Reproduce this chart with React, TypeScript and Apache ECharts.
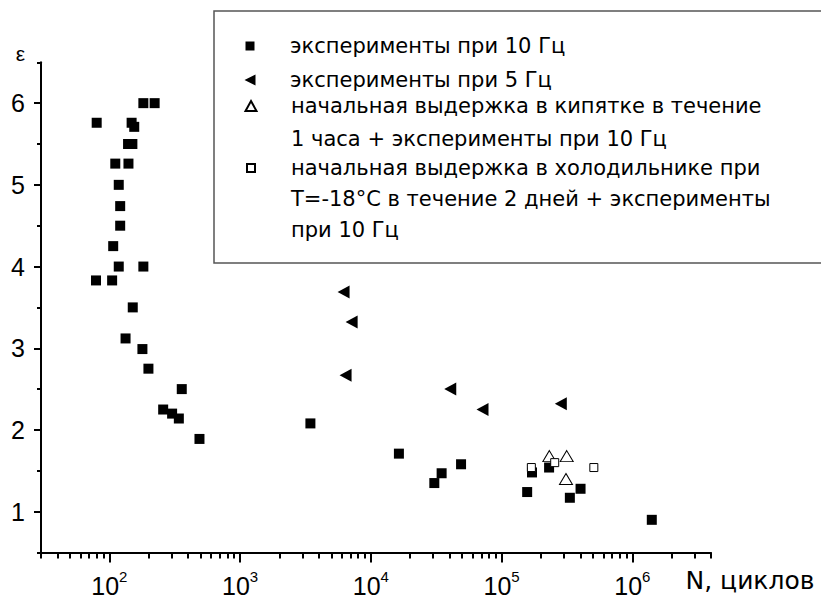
import React, { useEffect, useRef } from "react";
import * as echarts from "echarts";

// ---- data ----
const SERIES_NAMES = [
  "эксперименты при 10 Гц",
  "эксперименты при 5 Гц",
  "начальная выдержка в кипятке в течение\n1 часа + эксперименты при 10 Гц",
  "начальная выдержка в холодильнике при\nT=-18°C в течение 2 дней + эксперименты\nпри 10 Гц",
];

// experiments at 10 Hz (filled squares)
const N_10HZ = [
  182, 222, 80, 148, 155, 139, 150, 111, 140, 118, 121, 121, 107, 118, 182, 79, 105,
  151, 133, 179, 199, 358, 258, 302, 340, 489, 3450, 16400, 49000, 34800, 30600,
  157000, 171000, 231000, 333000, 402000, 1410000,
];
const E_10HZ = [
  6.0, 6.0, 5.76, 5.76, 5.71, 5.5, 5.5, 5.26, 5.26, 5.0, 4.74, 4.5, 4.25, 4.0, 4.0, 3.83, 3.83,
  3.5, 3.12, 2.99, 2.75, 2.5, 2.25, 2.2, 2.14, 1.89, 2.08, 1.71, 1.58, 1.47, 1.35,
  1.24, 1.48, 1.54, 1.17, 1.28, 0.9,
];

// experiments at 5 Hz (left triangles)
const N_5HZ = [6190, 7130, 6410, 40500, 71500, 284000];
const E_5HZ = [3.69, 3.32, 2.67, 2.5, 2.25, 2.32];

// boiling water pre-soak (open triangles)
const N_BOIL = [232000, 315000, 311000];
const E_BOIL = [1.68, 1.68, 1.4];

// fridge pre-storage (open squares)
const N_FRIDGE = [169000, 255000, 508000];
const E_FRIDGE = [1.54, 1.6, 1.54];

// axis ticks
const X_MAJOR = [100, 1000, 10000, 100000, 1000000];
const X_MINOR = [
  30, 40, 50, 60, 70, 80, 90,
  200, 300, 400, 500, 600, 700, 800, 900,
  2000, 3000, 4000, 5000, 6000, 7000, 8000, 9000,
  20000, 30000, 40000, 50000, 60000, 70000, 80000, 90000,
  200000, 300000, 400000, 500000, 600000, 700000, 800000, 900000,
  2000000, 3000000, 4000000,
];
const Y_MAJOR = [1, 2, 3, 4, 5, 6];
const Y_MINOR = [0.5, 1.5, 2.5, 3.5, 4.5, 5.5, 6.5];

const pairs = (xs: number[], ys: number[]) => xs.map((x, i) => [x, ys[i]]);

const LABEL_FONT = "Liberation Sans";
const TEXT_FONT = "DejaVu Sans";

function legendFor(
  name: string,
  top: number,
  w: number,
  h: number,
  lineH: number,
  extraLines: number,
  icon?: string
) {
  const prefix = "\n".repeat(extraLines);
  return {
    data: [icon ? { name, icon } : { name }],
    orient: "vertical",
    left: 250 - w / 2,
    top,
    padding: 0,
    itemWidth: w,
    itemHeight: h,
    selectedMode: false,
    formatter: (n: string) => prefix + n,
    textStyle: {
      fontFamily: TEXT_FONT,
      fontSize: 21,
      color: "#000",
      lineHeight: lineH,
      padding: [0, 0, 0, 35 - w / 2],
    },
  };
}

export default function App() {
  const ref = useRef<HTMLDivElement>(null);

  useEffect(() => {
    document.body.style.margin = "0";
    const chart = echarts.init(ref.current!, undefined, { renderer: "svg" });
    const axisColor = "#000";
    chart.setOption({
      animation: false,
      backgroundColor: "#fff",
      grid: { left: 41, right: 110, top: 62.3, bottom: 43.3, containLabel: false },
      xAxis: [
        {
          type: "log",
          logBase: 10,
          min: 30,
          max: 4000000,
          position: "bottom",
          axisLine: { show: true, onZero: false, lineStyle: { color: axisColor, width: 2 } },
          axisTick: { show: true, customValues: X_MAJOR, length: 10, lineStyle: { color: axisColor, width: 2 } },
          axisLabel: {
            customValues: X_MAJOR,
            margin: 16,
            formatter: (v: number) => `{b|10}{s|${Math.round(Math.log10(v))}}`,
            rich: {
              b: { fontFamily: LABEL_FONT, fontSize: 25, lineHeight: 34, color: "#000" },
              s: { fontFamily: LABEL_FONT, fontSize: 15, lineHeight: 8, verticalAlign: "top", color: "#000" },
            },
          },
          splitLine: { show: false },
          minorTick: { show: false },
          name: "N, циклов",
          nameLocation: "end",
          nameGap: 39,
          nameTextStyle: {
            fontFamily: TEXT_FONT,
            fontSize: 25,
            color: "#000",
            align: "center",
            verticalAlign: "top",
            padding: [15, 0, 0, 0],
          },
        },
        {
          type: "log",
          logBase: 10,
          min: 30,
          max: 4000000,
          position: "bottom",
          axisLine: { show: false, onZero: false },
          axisTick: { show: true, customValues: X_MINOR, length: 6, lineStyle: { color: axisColor, width: 2 } },
          axisLabel: { show: false },
          splitLine: { show: false },
          minorTick: { show: false },
        },
      ],
      yAxis: [
        {
          type: "value",
          min: 0.5,
          max: 6.5,
          position: "left",
          axisLine: { show: true, onZero: false, lineStyle: { color: axisColor, width: 2 } },
          axisTick: { show: true, customValues: Y_MAJOR, length: 7, lineStyle: { color: axisColor, width: 2 } },
          axisLabel: {
            customValues: Y_MAJOR,
            margin: 16,
            fontFamily: LABEL_FONT,
            fontSize: 25,
            color: "#000",
          },
          splitLine: { show: false },
          name: "ε",
          nameLocation: "end",
          nameGap: 9,
          nameTextStyle: {
            fontFamily: LABEL_FONT,
            fontSize: 21,
            color: "#000",
            align: "right",
            verticalAlign: "middle",
            padding: [0, 16, 0, 0],
          },
        },
        {
          type: "value",
          min: 0.5,
          max: 6.5,
          position: "left",
          axisLine: { show: false, onZero: false },
          axisTick: { show: true, customValues: Y_MINOR, length: 4, lineStyle: { color: axisColor, width: 2 } },
          axisLabel: { show: false },
          splitLine: { show: false },
        },
      ],
      legend: [
        legendFor(SERIES_NAMES[0], 31, 9, 9, 30, 0),
        legendFor(SERIES_NAMES[1], 65, 11, 11, 30, 0, "path://M0,5L10,0L10,10Z"),
        legendFor(SERIES_NAMES[2], 56.5, 11, 10, 33, 1),
        legendFor(SERIES_NAMES[3], 90.5, 8, 8, 31, 2),
      ],
      graphic: [
        {
          type: "rect",
          z: -1,
          shape: { x: 214, y: 11, width: 640, height: 252 },
          style: { fill: "none", stroke: "#555", lineWidth: 1.5 },
        },
      ],
      series: [
        {
          type: "scatter",
          name: SERIES_NAMES[0],
          data: pairs(N_10HZ, E_10HZ),
          symbol: "rect",
          symbolSize: 10,
          itemStyle: { color: "#000", opacity: 1 },
          emphasis: { disabled: true },
        },
        {
          type: "scatter",
          name: SERIES_NAMES[1],
          data: pairs(N_5HZ, E_5HZ),
          symbol: "triangle",
          symbolRotate: 90,
          symbolSize: [13, 12],
          itemStyle: { color: "#000", opacity: 1 },
          emphasis: { disabled: true },
        },
        {
          type: "scatter",
          name: SERIES_NAMES[2],
          data: pairs(N_BOIL, E_BOIL),
          symbol: "triangle",
          symbolSize: [13, 11],
          itemStyle: { color: "#fff", borderColor: "#000", borderWidth: 1, opacity: 1 },
          emphasis: { disabled: true },
        },
        {
          type: "scatter",
          name: SERIES_NAMES[3],
          data: pairs(N_FRIDGE, E_FRIDGE),
          symbol: "rect",
          symbolSize: 8,
          itemStyle: { color: "#fff", borderColor: "#000", borderWidth: 1, opacity: 1 },
          emphasis: { disabled: true },
        },
      ],
    });
    return () => chart.dispose();
  }, []);

  return <div ref={ref} style={{ width: 821, height: 598 }} />;
}
